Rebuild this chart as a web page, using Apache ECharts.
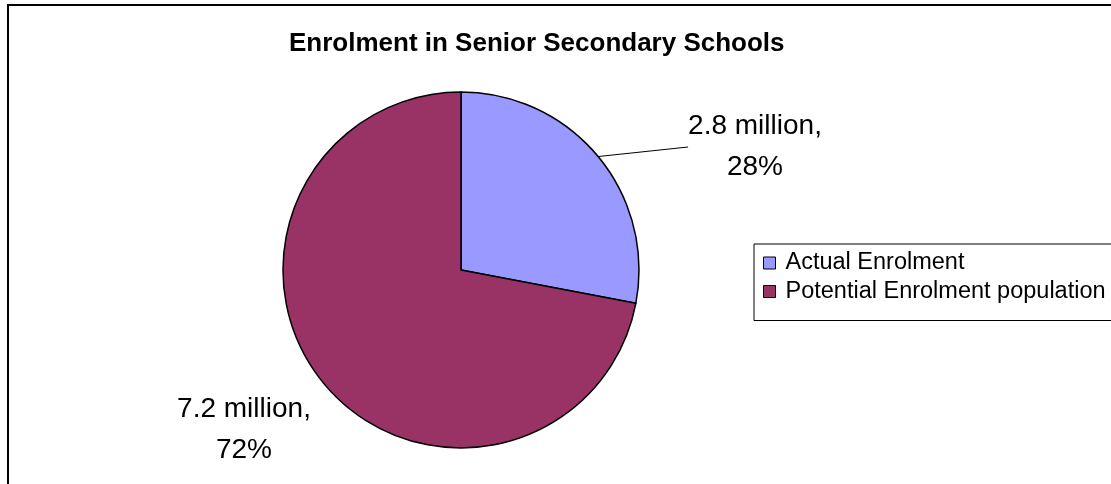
<!DOCTYPE html>
<html>
<head>
<meta charset="utf-8">
<script src="https://cdn.jsdelivr.net/npm/echarts@6/dist/echarts.min.js"></script>
<style>
  html, body { margin: 0; padding: 0; background: #fff; }
  #chart { width: 1111px; height: 484px; }
</style>
</head>
<body>
<div id="chart"></div>
<script>
  const categories = ['Actual Enrolment', 'Potential Enrolment population']
  const values = [2.8, 7.2]
  const colors = ['#9999FF', '#993366']
  // where each label block sits (centre of text)
  const labelPos = [[755, 147], [244, 430]]

  const chart = echarts.init(document.getElementById('chart'))

  const option = {
    animation: false,
    backgroundColor: '#fff',
    title: {
      text: 'Enrolment in Senior Secondary Schools',
      left: 284,
      top: 26,
      textStyle: {
        fontFamily: 'Liberation Sans, Arial',
        fontSize: 26,
        fontWeight: 'bold',
        color: '#000'
      }
    },
    legend: {
      orient: 'vertical',
      left: 754,
      top: 244,
      data: categories,
      icon: 'rect',
      itemWidth: 12,
      itemHeight: 12,
      itemGap: 4.5,
      padding: [7, 20, 17, 9],
      borderColor: '#000',
      borderWidth: 1,
      itemStyle: { borderColor: '#000', borderWidth: 1 },
      textStyle: {
        fontFamily: 'Liberation Sans, Arial',
        fontSize: 23.5,
        lineHeight: 23.5,
        color: '#000',
        padding: [0, 0, 0, 5]
      }
    },
    graphic: [{
      type: 'rect',
      silent: true,
      shape: { x: 8, y: 5, width: 1200, height: 600 },
      style: { fill: 'none', stroke: '#000', lineWidth: 2 }
    }],
    series: [{
      type: 'pie',
      center: [461, 270],
      radius: 178,
      startAngle: 90,
      clockwise: true,
      avoidLabelOverlap: false,
      itemStyle: { borderColor: '#000', borderWidth: 1.5 },
      label: {
        show: true,
        position: 'outside',
        fontFamily: 'Liberation Sans, Arial',
        fontSize: 28,
        lineHeight: 41,
        color: '#000',
        align: 'center',
        formatter: function (p) {
          return p.value + ' million,\n' + Math.round(p.percent) + '%'
        }
      },
      labelLine: {
        show: true,
        length2: 0,
        lineStyle: { color: '#000', width: 1 }
      },
      labelLayout: function (params) {
        const pos = labelPos[params.dataIndex]
        return { x: pos[0], y: pos[1], align: 'center', verticalAlign: 'middle' }
      },
      emphasis: { disabled: true },
      data: categories.map(function (name, i) {
        return {
          name: name,
          value: values[i],
          itemStyle: { color: colors[i] },
          labelLine: { show: i === 0 }
        }
      })
    }]
  }

  chart.setOption(option)
</script>
</body>
</html>
